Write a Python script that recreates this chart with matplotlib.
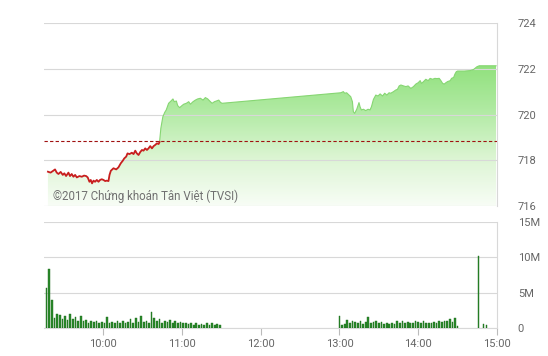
import matplotlib
matplotlib.use("Agg")
import matplotlib.pyplot as plt
import numpy as np
from matplotlib.colors import LinearSegmentedColormap

# Index (minutes after 9:00) and value
red_minutes = [18, 20, 22, 23.4, 24.7, 26, 27.7, 29.3, 30.5, 31.8, 33.6, 34.8, 36.1, 37.4, 38.7,
               40, 42, 43.8, 45.5, 47.1, 48.3, 49.6, 50.6, 51.6, 52.7, 53.9, 55.2, 56.5, 57.7, 59,
               60.3, 61.6, 62.8, 64.1, 64.9, 65.9, 67.9, 70, 71.7, 73.5, 75, 76.1, 77.6, 78.6, 80.1,
               81.9, 83.2, 84.5, 85.7, 87, 88.3, 89.6, 90.8, 92.1, 93.4, 94.6, 95.9, 97.2, 98.5, 99.7,
               101, 102.3, 103]
red_prices = [717.50, 717.46, 717.54, 717.60, 717.46, 717.40, 717.49, 717.36, 717.43, 717.31,
              717.46, 717.31, 717.40, 717.28, 717.36, 717.25, 717.31, 717.28, 717.33, 717.31,
              717.25, 717.06, 717.14, 716.99, 717.11, 717.06, 717.14, 717.06, 717.14, 717.17,
              717.14, 717.09, 717.11, 717.09, 717.36, 717.54, 717.65, 717.60, 717.69, 717.87,
              717.98, 718.08, 718.16, 718.30, 718.27, 718.33, 718.27, 718.42, 718.30, 718.23,
              718.36, 718.45, 718.42, 718.52, 718.45, 718.52, 718.62, 718.52, 718.62, 718.67,
              718.74, 718.71, 718.80]

am_minutes = [104, 105.5, 107, 108.1, 109.9, 111.7, 113.2, 114.2, 115.8, 116.8, 118.3, 120.1,
              121.4, 123.4, 125.2, 126.5, 128.5, 130.3, 132, 134.1, 136.1, 137.9, 139.7, 141.2,
              143, 144.8, 146.3, 148.1, 149.4, 150.6]
am_prices = [719.40, 719.90, 720.10, 720.20, 720.49, 720.59, 720.68, 720.56, 720.59, 720.39,
             720.30, 720.39, 720.45, 720.49, 720.56, 720.45, 720.56, 720.63, 720.68, 720.71,
             720.63, 720.74, 720.68, 720.59, 720.49, 720.56, 720.59, 720.63, 720.53, 720.49]

pm_minutes = [241, 243, 244, 245.5, 247.3, 248.6, 249.9, 250.6, 251.6, 253.2, 254.9, 255.7,
              256.7, 258.3, 260, 261.8, 263.3, 264.4, 265.9, 267.7, 269.4, 271, 272.8, 274.5,
              276.1, 277.8, 279.1, 281.2, 282.9, 284.2, 285.5, 286.8, 288.8, 290.6, 292.3, 294.4,
              296.4, 298.2, 300, 301.5, 302.5, 304.1, 305.8, 307.6, 309.1, 310.9, 312.7, 314.2,
              316, 317.3, 318.6, 319.8, 321.1, 322.4, 324.4, 325.4, 327, 328, 329, 330, 335.1,
              339.7, 342.2, 344.8, 346.5, 359.3]
pm_prices = [720.95, 721.00, 720.93, 720.95, 720.85, 720.78, 720.56, 720.12, 720.05, 720.23,
             720.52, 720.34, 720.20, 720.23, 720.17, 720.23, 720.20, 720.34, 720.66, 720.85,
             720.81, 720.90, 720.81, 720.93, 720.85, 720.95, 720.93, 721.00, 721.07, 721.10,
             721.25, 721.29, 721.25, 721.22, 721.25, 721.14, 721.22, 721.33, 721.39, 721.48,
             721.36, 721.44, 721.54, 721.48, 721.58, 721.54, 721.58, 721.57, 721.58, 721.48,
             721.36, 721.33, 721.39, 721.44, 721.48, 721.58, 721.62, 721.77, 721.87, 721.90,
             721.90, 721.92, 721.97, 722.09, 722.13, 722.13]

reference_price = 718.85

# volume (millions), 2-minute bars
am_vol_start = 17
am_volume = [5.7, 8.3, 4.0, 1.5, 2.0, 1.9, 1.3, 1.8, 1.2, 2.0, 1.3, 1.6, 1.1, 1.7, 1.0, 1.2,
             0.8, 1.1, 0.9, 1.0, 0.8, 0.9, 0.7, 1.6, 0.8, 0.9, 0.7, 1.0, 0.8, 1.1, 0.7, 0.9,
             1.3, 0.8, 1.4, 0.9, 1.7, 0.9, 1.0, 0.8, 2.3, 1.4, 1.0, 1.3, 0.8, 1.1, 0.9, 1.2,
             0.8, 1.0, 0.7, 0.9, 0.7, 0.8, 0.6, 0.8, 0.5, 0.7, 0.5, 0.6, 0.4, 0.7, 0.5, 0.8,
             0.4, 0.6, 0.5]
pm_vol_start = 240
pm_volume = [1.7, 0.5, 0.6, 1.2, 0.7, 1.0, 0.9, 0.8, 1.0, 0.6, 0.9, 1.6, 0.8, 0.9, 1.0, 0.7,
             0.9, 0.6, 0.7, 0.6, 0.7, 0.6, 1.0, 0.8, 1.0, 0.7, 0.9, 0.8, 0.7, 1.1, 0.9, 0.8,
             1.0, 0.7, 0.8, 0.7, 0.9, 0.8, 1.0, 0.9, 1.1, 1.0, 1.3, 0.9, 1.4, 0.3]
close_vol_minutes = [346, 350, 352]
close_volume = [10.2, 0.6, 0.5]

tick_hours = [10, 11, 12, 13, 14, 15]
tick_labels = ["10:00", "11:00", "12:00", "13:00", "14:00", "15:00"]
price_ticks = [716, 718, 720, 722, 724]
vol_ticks = [0, 5, 10, 15]
vol_labels = ["0", "5M", "10M", "15M"]

GRID = "#d8d8d8"
TXT = "#666666"
plt.rcParams["font.family"] = ["Roboto", "DejaVu Sans"]


def hours(minutes):
    return 9 + np.asarray(minutes, dtype=float) / 60


fig = plt.figure(figsize=(5.48, 3.56), dpi=100)
ax = fig.add_axes([0.0803, 0.4213, 0.8266, 0.5141])
axv = fig.add_axes([0.0803, 0.0778, 0.8266, 0.2986])

x0, x1 = 9.25, 15.0

# ---- price panel
t_all = hours(red_minutes + am_minutes + pm_minutes)
p_all = np.array(red_prices + am_prices + pm_prices)

cmap = LinearSegmentedColormap.from_list("g", ["#f8fdf6", "#dcf5d3", "#b0eaa2", "#8ee07a"])
grad = np.linspace(0, 1, 256).reshape(-1, 1)
img = ax.imshow(grad, extent=[x0, x1, 716, 722.3], origin="lower", aspect="auto",
                cmap=cmap, zorder=1)
poly = ax.fill_between(t_all, 716, p_all, color="none", lw=0)
img.set_clip_path(poly.get_paths()[0], transform=ax.transData)

n_red = len(red_minutes)
ax.plot(t_all[n_red - 1:], p_all[n_red - 1:], color="#86d672", lw=0.8, zorder=3)
ax.plot(t_all[:n_red], p_all[:n_red], color="#c81e1e", lw=1.3, zorder=4)
ax.axhline(reference_price, color="#a01010", lw=0.8, ls=(0, (3, 2)), zorder=5)

ax.set_xlim(x0, x1)
ax.set_ylim(716, 724)
ax.set_yticks(price_ticks)
ax.set_xticks([])
ax.yaxis.tick_right()
ax.tick_params(axis="y", length=0, pad=15, labelsize=8, labelcolor=TXT)
ax.grid(axis="y", color=GRID, lw=0.8, zorder=0)
for s in ["left", "top", "bottom"]:
    ax.spines[s].set_visible(False)
ax.spines["right"].set_color(GRID)
ax.text(9.36, 716.25, "©2017 Chứng khoán Tân Việt (TVSI)", fontsize=8.3,
        color="#707070", zorder=6)

# ---- volume panel
vt_am = hours(am_vol_start + 2 * np.arange(len(am_volume)))
vt_pm = hours(pm_vol_start + 2 * np.arange(len(pm_volume)))
bw = 0.021
for vt, vv in [(vt_am, am_volume), (vt_pm, pm_volume)]:
    axv.bar(vt, vv, width=bw, color="#2a8a2a", edgecolor="#1d6b1d", lw=0.3, zorder=3)
axv.bar(hours(close_vol_minutes), close_volume, width=0.014, color="#2a8a2a",
        edgecolor="#1d6b1d", lw=0.3, zorder=3)

axv.set_xlim(x0, x1)
axv.set_ylim(0, 15)
axv.set_yticks(vol_ticks)
axv.set_yticklabels(vol_labels)
axv.yaxis.tick_right()
axv.tick_params(axis="y", length=0, pad=15, labelsize=8, labelcolor=TXT)
axv.set_xticks(tick_hours)
axv.set_xticklabels(tick_labels)
axv.tick_params(axis="x", length=5, color="#bbbbbb", labelsize=8, labelcolor=TXT, pad=3)
axv.grid(axis="y", color=GRID, lw=0.8, zorder=0)
for s in ["left", "top"]:
    axv.spines[s].set_visible(False)
axv.spines["right"].set_color(GRID)
axv.spines["bottom"].set_color(GRID)

fig.savefig("out.png", dpi=100)
